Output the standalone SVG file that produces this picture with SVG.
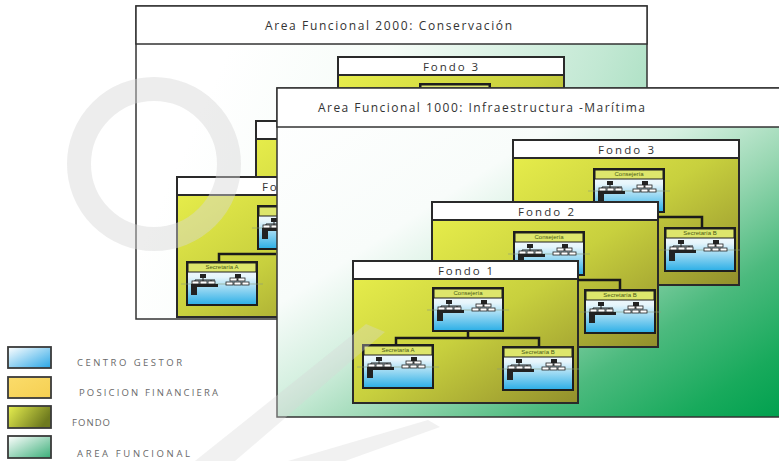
<svg xmlns="http://www.w3.org/2000/svg" xmlns:xlink="http://www.w3.org/1999/xlink" width="779" height="461" viewBox="0 0 779 461">
<defs>
<style>
.t{font-family:"Open Sans","Liberation Sans",sans-serif;fill:#333;}
.title{font-size:12px;}
.flab{font-size:11.5px;}
.cglab{font-family:"Liberation Sans",sans-serif;font-size:6px;fill:#4a5a14;}
.leg{font-family:"Open Sans","Liberation Sans",sans-serif;font-size:9.5px;fill:#6a6a6a;}
.fondo{fill:url(#gFondo);stroke:#2a2a2a;stroke-width:2;}
.fhead{fill:#fff;stroke:#2a2a2a;stroke-width:2;}
.ahead{fill:#fff;stroke:#333;stroke-width:1.5;}
.cgbox{fill:url(#gBlue);stroke:#1e1e1e;stroke-width:2;}
.strip{fill:#dde66c;stroke:#1e1e1e;stroke-width:1;}
.conn{fill:none;stroke:#1a1a1a;stroke-width:2.5;}
.sw{stroke:#3a3a3a;stroke-width:1.8;}
.wm{fill:#d6d6d6;opacity:0.35;}
</style>
<linearGradient id="gFront" x1="0" y1="0" x2="1" y2="1">
<stop offset="0" stop-color="#ffffff"/>
<stop offset="0.33" stop-color="#f8fcfa"/>
<stop offset="0.46" stop-color="#d6f0e1"/>
<stop offset="0.6" stop-color="#98d7b2"/>
<stop offset="0.75" stop-color="#4cba7e"/>
<stop offset="0.9" stop-color="#18aa5c"/>
<stop offset="1" stop-color="#00a04e"/>
</linearGradient>
<linearGradient id="gBack" gradientUnits="userSpaceOnUse" x1="250" y1="0" x2="700" y2="200">
<stop offset="0" stop-color="#ffffff"/>
<stop offset="0.3" stop-color="#f6fcf8"/>
<stop offset="0.7" stop-color="#c2e8d3"/>
<stop offset="1" stop-color="#90d6b0"/>
</linearGradient>
<linearGradient id="gFondo" x1="0" y1="0" x2="1" y2="1">
<stop offset="0" stop-color="#eaf04c"/>
<stop offset="0.5" stop-color="#c8d03e"/>
<stop offset="1" stop-color="#928f2c"/>
</linearGradient>
<linearGradient id="gBlue" x1="0" y1="0" x2="0" y2="1">
<stop offset="0" stop-color="#ffffff"/>
<stop offset="0.35" stop-color="#e6f5fb"/>
<stop offset="1" stop-color="#2aaee6"/>
</linearGradient>
<linearGradient id="lgBlue" x1="0" y1="0" x2="1" y2="1">
<stop offset="0" stop-color="#ffffff"/>
<stop offset="1" stop-color="#29a6e6"/>
</linearGradient>
<linearGradient id="lgPos" x1="0" y1="0" x2="1" y2="1">
<stop offset="0" stop-color="#fbdc6a"/>
<stop offset="1" stop-color="#f5cf52"/>
</linearGradient>
<linearGradient id="lgFondo" x1="0" y1="0" x2="1" y2="0.4">
<stop offset="0" stop-color="#e8f050"/>
<stop offset="1" stop-color="#6e7a1e"/>
</linearGradient>
<linearGradient id="lgArea" x1="0" y1="0" x2="1" y2="1">
<stop offset="0" stop-color="#ffffff"/>
<stop offset="1" stop-color="#3aae78"/>
</linearGradient>
<g id="cg">
<rect class="cgbox" x="0" y="0" width="70" height="43"/>
<rect class="strip" x="1" y="1" width="68" height="9"/>
<line x1="-6" y1="22" x2="76" y2="22" stroke="#8a9a7a" stroke-width="0.6"/>
<rect x="13" y="12" width="6" height="4" fill="#222"/>
<path d="M16,16 V18 M8,18 H28 M8,18 V19 M16,18 V19 M24,18 V19" stroke="#222" fill="none" stroke-width="1"/>
<rect x="5" y="19" width="7" height="3" fill="#fff" stroke="#222" stroke-width="0.8"/>
<rect x="13" y="19" width="7" height="3" fill="#fff" stroke="#222" stroke-width="0.8"/>
<rect x="21" y="19" width="7" height="3" fill="#fff" stroke="#222" stroke-width="0.8"/>
<path d="M4,22 H31 V25 H10 V33 H4 Z" fill="#222"/>
<rect x="48" y="12" width="6" height="4" fill="#222"/>
<path d="M51,16 V18 M45,18 H57" stroke="#222" fill="none" stroke-width="1"/>
<rect x="43" y="16" width="7" height="3" fill="#fff" stroke="#222" stroke-width="0.8"/>
<rect x="51" y="16" width="7" height="3" fill="#fff" stroke="#222" stroke-width="0.8"/>
<rect x="39" y="20" width="7" height="3" fill="#fff" stroke="#222" stroke-width="0.8"/>
<rect x="47" y="20" width="7" height="3" fill="#fff" stroke="#222" stroke-width="0.8"/>
<rect x="55" y="20" width="7" height="3" fill="#fff" stroke="#222" stroke-width="0.8"/>
</g>
</defs>
<rect x="0" y="0" width="779" height="461" fill="#ffffff"/>

<g id="area2000">
<rect x="136" y="6" width="511" height="313" fill="url(#gBack)" stroke="#333" stroke-width="1.5"/>
<rect class="ahead" x="136" y="6" width="511" height="38"/>
<text class="t title" x="265" y="30" textLength="247" lengthAdjust="spacing">Area Funcional 2000: Conservación</text>
</g>

<g id="a2000-fondo3">
<rect class="fondo" x="338" y="57" width="226" height="200"/>
<rect class="fhead" x="338" y="57" width="226" height="18"/>
<text class="t flab" x="423" y="71" textLength="55" lengthAdjust="spacing">Fondo 3</text>
<use xlink:href="#cg" x="420" y="84"/>
</g>

<g id="a2000-fondo2">
<rect class="fondo" x="256" y="121" width="226" height="150"/>
<rect class="fhead" x="256" y="121" width="226" height="18"/>
</g>

<g id="a2000-fondo1">
<rect class="fondo" x="177" y="177" width="226" height="140"/>
<rect class="fhead" x="177" y="177" width="226" height="18"/>
<text class="t flab" x="262" y="191" textLength="55" lengthAdjust="spacing">Fondo 1</text>
<g id="a2000-f1-consejeria"><use xlink:href="#cg" x="258" y="206"/><text class="cglab" x="293" y="213" text-anchor="middle">Consejería</text></g>
<g id="a2000-f1-secA"><use xlink:href="#cg" x="187" y="262"/><text class="cglab" x="222" y="269" text-anchor="middle">Secretaría A</text></g>
</g>

<g id="area1000">
<rect x="277" y="88" width="506" height="329" fill="url(#gFront)" stroke="#333" stroke-width="1.5"/>
<rect class="ahead" x="277" y="88" width="506" height="39"/>
<text class="t title" x="318" y="112" textLength="327" lengthAdjust="spacing">Area Funcional 1000: Infraestructura -Marítima</text>
</g>

<g id="a1000-fondo3">
<rect class="fondo" x="513" y="140" width="226" height="145"/>
<rect class="fhead" x="513" y="140" width="226" height="18"/>
<text class="t flab" x="598" y="154" textLength="56" lengthAdjust="spacing">Fondo 3</text>
<g id="f3-consejeria"><use xlink:href="#cg" x="594" y="169"/><text class="cglab" x="629" y="176" text-anchor="middle">Consejería</text></g>
<g id="f3-secB"><use xlink:href="#cg" x="665" y="228"/><text class="cglab" x="700" y="235" text-anchor="middle">Secretaría B</text></g>
</g>

<g id="a1000-fondo2">
<rect class="fondo" x="432" y="202" width="226" height="145"/>
<rect class="fhead" x="432" y="202" width="226" height="18"/>
<text class="t flab" x="518" y="216" textLength="56" lengthAdjust="spacing">Fondo 2</text>
<g id="f2-consejeria"><use xlink:href="#cg" x="514" y="232"/><text class="cglab" x="549" y="239" text-anchor="middle">Consejería</text></g>
<g id="f2-secB"><use xlink:href="#cg" x="585" y="290"/><text class="cglab" x="620" y="297" text-anchor="middle">Secretaría B</text></g>
</g>

<g id="a1000-fondo1">
<rect class="fondo" x="353" y="261" width="225" height="142"/>
<rect class="fhead" x="353" y="261" width="225" height="18"/>
<text class="t flab" x="438" y="275" textLength="55" lengthAdjust="spacing">Fondo 1</text>
<g id="f1-consejeria"><use xlink:href="#cg" x="433" y="288"/><text class="cglab" x="468" y="295" text-anchor="middle">Consejería</text></g>
<g id="f1-secA"><use xlink:href="#cg" x="363" y="345"/><text class="cglab" x="398" y="352" text-anchor="middle">Secretaría A</text></g>
<g id="f1-secB"><use xlink:href="#cg" x="503" y="347"/><text class="cglab" x="538" y="354" text-anchor="middle">Secretaría B</text></g>
</g>

<g id="connectors">
<path class="conn" d="M468,332 V338 M396,345 V338 H539 V347"/>
<path class="conn" d="M578,280 H620 V290"/>
<path class="conn" d="M658,217 H702 V228"/>
<path class="conn" d="M276,254 H219 V262"/>
</g>

<g id="legend">
<rect class="sw" x="8" y="347" width="43" height="21" fill="url(#lgBlue)"/>
<rect class="sw" x="8" y="377" width="43" height="21" fill="url(#lgPos)"/>
<rect class="sw" x="8" y="406" width="43" height="22" fill="url(#lgFondo)"/>
<rect class="sw" x="8" y="436" width="43" height="22" fill="url(#lgArea)"/>
<text class="leg" x="77" y="366" textLength="105" lengthAdjust="spacing">CENTRO GESTOR</text>
<text class="leg" x="79" y="396" textLength="139" lengthAdjust="spacing">POSICION FINANCIERA</text>
<text class="leg" x="72" y="426" textLength="38" lengthAdjust="spacing">FONDO</text>
<text class="leg" x="77" y="457" textLength="113" lengthAdjust="spacing">AREA FUNCIONAL</text>
</g>

<g id="watermark">
<circle cx="154" cy="164" r="75" fill="none" stroke="#d8d8d8" stroke-width="24" opacity="0.45"/>
<polygon class="wm" points="195,461 235,461 385,332 366,324"/>
<polygon class="wm" points="288,461 345,461 440,427 428,420"/>
</g>
</svg>
